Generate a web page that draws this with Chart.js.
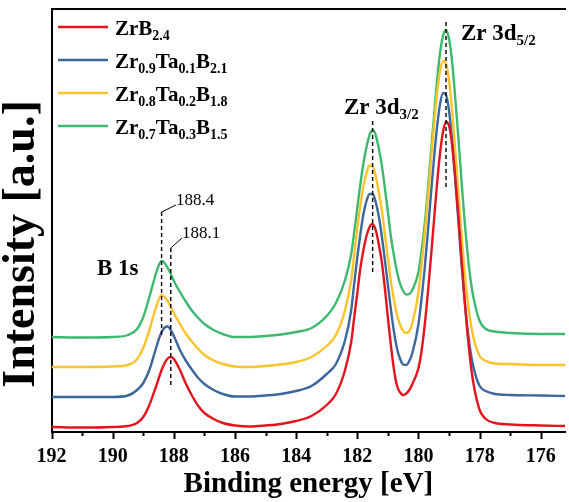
<!DOCTYPE html>
<html>
<head>
<meta charset="utf-8">
<script src="https://cdn.jsdelivr.net/npm/chart.js@4.4.1/dist/chart.umd.min.js"></script>
<style>
  html, body { margin: 0; padding: 0; background: #ffffff; }
  #wrap { width: 569px; height: 502px; position: relative; }
</style>
</head>
<body>
<div id="wrap"><canvas id="xps" width="569" height="502"></canvas></div>
<script>
// Binding energy grid (eV), shared by all spectra
const energies = [
  192.0, 191.0, 190.0, 189.5, 189.2, 189.0, 188.8, 188.6, 188.5, 188.4,
  188.3, 188.2, 188.1, 188.0, 187.8, 187.6, 187.4, 187.2, 187.0, 186.7,
  186.4, 186.0, 185.5, 185.0, 184.5, 184.0, 183.5, 183.0, 182.7, 182.4,
  182.2, 182.1, 182.0, 181.9, 181.8, 181.7, 181.6, 181.5, 181.4, 181.3,
  181.2, 181.1, 181.0, 180.9, 180.8, 180.7, 180.6, 180.5, 180.4, 180.3,
  180.2, 180.0, 179.9, 179.8, 179.7, 179.6, 179.5, 179.4, 179.3, 179.2,
  179.1, 179.0, 178.9, 178.8, 178.7, 178.6, 178.5, 178.4, 178.3, 178.2,
  178.0, 177.8, 177.5, 177.0, 176.0, 175.2
];

// Stacked spectra, intensity in arbitrary units (offset per sample)
const zrB24 = [
  5, 4.5, 5, 6, 9, 15, 27, 44, 53, 62,
  69, 73.5, 75, 73, 62, 48, 36, 26, 19, 13,
  9, 6.5, 5.5, 6.5, 8, 11, 16, 27, 38, 62,
  90, 115, 139, 164, 182, 196, 205, 208, 202, 188,
  170, 144, 114, 86, 62, 46, 39.5, 37, 38.5, 42,
  48, 64, 81, 106, 137, 172, 209, 246, 277.5, 300,
  310, 306, 287, 255, 218, 175.5, 135, 99, 70, 48,
  22, 13, 9, 7.5, 6.5, 6
];
const zr09Ta01B21 = [
  35, 35, 35, 36.5, 42, 49, 62, 82, 92, 100,
  104.5, 105.5, 102, 96, 82, 71, 62, 54, 48, 42,
  38, 35.5, 35.5, 36.5, 38, 41, 46, 58, 68, 92,
  122, 149, 175, 198, 218, 231, 238, 238, 230, 216,
  196, 172, 147, 122, 100, 83, 73, 67.5, 67, 71,
  79, 108, 133.5, 163, 198, 235, 271, 303, 327, 339,
  337, 321, 291, 253, 212.5, 171, 134.5, 104, 80.5, 64.5,
  46, 41, 38, 37, 36.5, 36
];
const zr08Ta02B18 = [
  65, 65, 65.5, 67, 73, 84, 102, 123, 132, 137,
  135, 131, 125, 119, 108, 98, 90, 83, 77, 71.5,
  68, 65.5, 65, 66, 67.5, 70, 75, 86, 97, 122,
  152, 178, 204, 227, 246, 259, 266.5, 266, 256, 240,
  222, 198, 174, 150, 132, 117, 107, 101, 99, 101,
  109, 140, 167, 197, 232, 269, 305, 337, 360, 371,
  368, 351, 321, 282, 241, 200, 163, 133, 110, 94,
  76, 71, 68.5, 68, 67, 67
];
const zr07Ta03B15 = [
  95, 94.5, 95, 97, 103, 115, 135, 157, 166, 171,
  169, 164, 158, 151, 140, 130, 121, 114, 108, 102,
  98, 95, 95, 96, 97.5, 100, 104, 116, 129, 152,
  178, 200, 224, 248, 269, 285, 297, 302, 297, 284,
  267, 244, 220, 195, 176, 160, 148, 141, 137.5, 138,
  142, 160, 181, 207, 240, 277, 313, 349, 378, 396,
  402, 393, 370, 335, 296, 254, 214, 180, 153, 134,
  111, 103, 100.5, 99, 98, 98
];

// Legend entries as [text, subscript] runs
const seriesLabels = [
  [['ZrB', '2.4']],
  [['Zr', '0.9'], ['Ta', '0.1'], ['B', '2.1']],
  [['Zr', '0.8'], ['Ta', '0.2'], ['B', '1.8']],
  [['Zr', '0.7'], ['Ta', '0.3'], ['B', '1.5']]
];
const seriesColors = ['#e3141d', '#3b679d', '#fbc22c', '#3cb96e'];

// Axis range, tick labels and titles
const xRange = { from: 192, to: 175.2 };
const xTickLabels = [192, 190, 188, 186, 184, 182, 180, 178, 176];
const yRange = { min: 0, max: 423 };
const xTitle = 'Binding energy [eV]';
const yTitle = 'Intensity [a.u.]';

// Peak markers: energy, vertical extent (intensity units)
const peakLines = [
  { e: 181.5, top: 311, bottom: 159 },
  { e: 179.1, top: 410, bottom: 242 },
  { e: 188.4, top: 220, bottom: 97 },
  { e: 188.1, top: 184, bottom: 47 }
];
const peakTitles = [
  { runs: [['Zr 3d', '5/2']], x: 461, y: 40 },
  { runs: [['Zr 3d', '3/2']], x: 344, y: 114 },
  { runs: [['B 1s', '']], x: 97, y: 275 }
];
const positionLabels = [
  { text: '188.4', e: 188.4, tipTop: 220, x: 176, y: 205 },
  { text: '188.1', e: 188.1, tipTop: 184, x: 182, y: 238 }
];

const SERIF = '"Liberation Serif", "Times New Roman", serif';

function richText(ctx, runs, x, y, size, subSize, subDrop) {
  let cx = x;
  for (const [main, sub] of runs) {
    ctx.font = 'bold ' + size + 'px ' + SERIF;
    ctx.fillText(main, cx, y);
    cx += ctx.measureText(main).width;
    if (sub) {
      ctx.font = 'bold ' + subSize + 'px ' + SERIF;
      ctx.fillText(sub, cx, y + subDrop);
      cx += ctx.measureText(sub).width;
    }
  }
}

const decorPlugin = {
  id: 'xpsDecor',
  afterDraw(chart) {
    const { ctx, chartArea } = chart;
    const xs = chart.scales.x, ys = chart.scales.y;
    ctx.save();
    ctx.fillStyle = '#000';
    ctx.strokeStyle = '#000';
    ctx.textBaseline = 'alphabetic';
    ctx.textAlign = 'left';

    // major / minor tick marks below the energy axis
    ctx.lineWidth = 2;
    for (const t of xs.ticks) {
      const px = Math.round(xs.getPixelForValue(t.value)) + 0.5;
      const major = xTickLabels.includes(t.value);
      ctx.beginPath();
      ctx.moveTo(px, chartArea.bottom);
      ctx.lineTo(px, chartArea.bottom + (major ? 7 : 4));
      ctx.stroke();
    }

    // dashed peak position markers
    ctx.lineWidth = 1.4;
    ctx.setLineDash([4, 3]);
    for (const p of peakLines) {
      const px = xs.getPixelForValue(p.e);
      ctx.beginPath();
      ctx.moveTo(px, ys.getPixelForValue(p.top));
      ctx.lineTo(px, ys.getPixelForValue(p.bottom));
      ctx.stroke();
    }
    ctx.setLineDash([]);

    // leaders and values for the B 1s positions
    ctx.lineWidth = 1;
    ctx.font = '17px ' + SERIF;
    for (const l of positionLabels) {
      const px = xs.getPixelForValue(l.e);
      const py = ys.getPixelForValue(l.tipTop);
      ctx.beginPath();
      ctx.moveTo(px, py);
      ctx.lineTo(l.x, l.y);
      ctx.stroke();
      ctx.fillText(l.text, l.x, l.y);
    }

    // peak names
    for (const t of peakTitles) {
      richText(ctx, t.runs, t.x, t.y, 23, 15, 5);
    }

    // legend
    seriesLabels.forEach((runs, i) => {
      const y = 27 + i * 33;
      ctx.strokeStyle = seriesColors[i];
      ctx.lineWidth = 2.6;
      ctx.beginPath();
      ctx.moveTo(58, y);
      ctx.lineTo(108, y);
      ctx.stroke();
      ctx.fillStyle = '#000';
      richText(ctx, runs, 115, y + 8, 21, 14, 5);
    });

    // intensity axis title, set a little below the plot centre
    ctx.translate(22, 244);
    ctx.rotate(-Math.PI / 2);
    ctx.textAlign = 'center';
    ctx.textBaseline = 'middle';
    ctx.font = 'bold 46px ' + SERIF;
    ctx.fillText(yTitle, 0, 0);
    ctx.restore();
  }
};

const series = [zrB24, zr09Ta01B21, zr08Ta02B18, zr07Ta03B15];

new Chart(document.getElementById('xps'), {
  type: 'line',
  data: {
    datasets: series.map((vals, i) => ({
      label: seriesLabels[i].map(r => r[0] + r[1]).join(''),
      data: energies.map((e, k) => ({ x: e, y: vals[k] })),
      borderColor: seriesColors[i],
      borderWidth: 2.4,
      pointRadius: 0,
      fill: false,
      cubicInterpolationMode: 'monotone'
    }))
  },
  options: {
    responsive: false,
    animation: false,
    devicePixelRatio: 1,
    layout: { padding: { top: 9, right: 0, bottom: 0, left: 0 } },
    plugins: { legend: { display: false }, tooltip: { enabled: false } },
    scales: {
      x: {
        type: 'linear',
        reverse: true,
        min: xRange.to,
        max: xRange.from,
        afterFit(s) { s.height = 70; },
        grid: { display: false, drawTicks: false },
        border: { display: true, color: '#000', width: 2 },
        ticks: {
          stepSize: 1,
          includeBounds: false,
          autoSkip: false,
          maxRotation: 0,
          padding: 13,
          color: '#000',
          font: { family: SERIF, size: 20, weight: 'bold' },
          callback: v => (xTickLabels.includes(v) ? String(v) : '')
        },
        title: {
          display: true,
          text: xTitle,
          color: '#000',
          padding: { top: 0, bottom: 0 },
          font: { family: SERIF, size: 29, weight: 'bold' }
        }
      },
      xTop: {
        type: 'linear',
        position: 'top',
        reverse: true,
        min: xRange.to,
        max: xRange.from,
        afterFit(s) { s.height = 0; },
        grid: { display: false, drawTicks: false },
        border: { display: true, color: '#000', width: 2 },
        ticks: { display: false }
      },
      y: {
        min: yRange.min,
        max: yRange.max,
        afterFit(s) { s.width = 51.5; },
        grid: { display: false, drawTicks: false },
        border: { display: true, color: '#000', width: 2 },
        ticks: { display: false },
        title: { display: false }
      }
    }
  },
  plugins: [decorPlugin]
});
</script>
</body>
</html>
